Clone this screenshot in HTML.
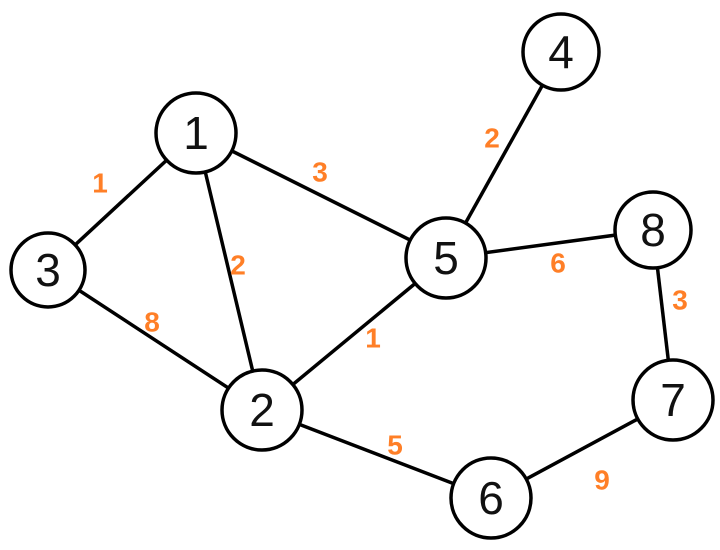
<!DOCTYPE html>
<html><head><style>
html,body{margin:0;padding:0;background:#fff;width:720px;height:550px;overflow:hidden}
svg{display:block}
.n{font-family:"Liberation Sans",sans-serif;font-size:46px;fill:#111;text-anchor:middle;dominant-baseline:central}
.w{font-family:"Liberation Sans",sans-serif;font-size:28px;fill:#ff7f27;text-anchor:middle;dominant-baseline:central;font-weight:bold}
</style></head><body>
<svg width="720" height="550" viewBox="0 0 720 550">
<g stroke="#000" stroke-width="3.5" fill="none">
<line x1="196" y1="133" x2="48" y2="270"/>
<line x1="196" y1="133" x2="446" y2="258"/>
<line x1="196" y1="133" x2="262" y2="410"/>
<line x1="48" y1="270" x2="262" y2="410"/>
<line x1="262" y1="410" x2="446" y2="258"/>
<line x1="262" y1="410" x2="491" y2="498"/>
<line x1="446" y1="258" x2="561" y2="52"/>
<line x1="446" y1="258" x2="653" y2="230"/>
<line x1="653" y1="230" x2="673" y2="400"/>
<line x1="673" y1="400" x2="491" y2="498"/>
</g>
<g stroke="#000" stroke-width="3.5" fill="#fff">
<circle cx="196" cy="133" r="40"/>
<circle cx="48" cy="270" r="37"/>
<circle cx="262" cy="410" r="40"/>
<circle cx="446" cy="258" r="40"/>
<circle cx="561" cy="52" r="38"/>
<circle cx="653" cy="230" r="38"/>
<circle cx="673" cy="400" r="40"/>
<circle cx="491" cy="498" r="40"/>
</g>
<text class="n" x="196" y="133">1</text>
<text class="n" x="48" y="270">3</text>
<text class="n" x="262" y="410">2</text>
<text class="n" x="446" y="258">5</text>
<text class="n" x="561" y="52">4</text>
<text class="n" x="653" y="230">8</text>
<text class="n" x="673" y="400">7</text>
<text class="n" x="491" y="498">6</text>
<text class="w" x="100" y="183">1</text>
<text class="w" x="320" y="172">3</text>
<text class="w" x="238" y="265">2</text>
<text class="w" x="152" y="322">8</text>
<text class="w" x="373" y="338">1</text>
<text class="w" x="395" y="445">5</text>
<text class="w" x="492" y="138">2</text>
<text class="w" x="558" y="263">6</text>
<text class="w" x="680" y="300">3</text>
<text class="w" x="602" y="480">9</text>
</svg>
</body></html>
